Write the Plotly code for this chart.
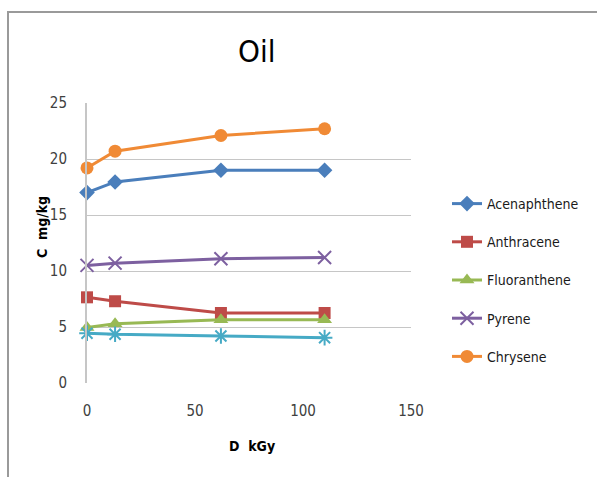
import plotly.graph_objects as go

# Absorbed dose (kGy) and measured concentrations (mg/kg)
dose = [0, 13, 62, 110]
acenaphthene = [17.0, 17.95, 19.0, 19.0]
anthracene = [7.65, 7.3, 6.25, 6.25]
fluoranthene = [4.95, 5.3, 5.65, 5.65]
pyrene = [10.5, 10.7, 11.1, 11.2]
chrysene = [19.2, 20.7, 22.1, 22.7]
benzo_pyrene = [4.45, 4.35, 4.2, 4.05]

W, H = 597, 477
L, R, T, B = 87, 186, 103, 94
pw, ph = W - L - R, H - T - B

def px_x(p):
    return (p - L) / pw

def px_y(p):
    return (H - B - p) / ph

FONT = "DejaVu Sans Condensed, Liberation Sans Narrow, sans-serif"

series = [
    ("Acenaphthene", acenaphthene, "#4A7EBB", "diamond", 12, True),
    ("Anthracene", anthracene, "#BE4B48", "square", 12, True),
    ("Fluoranthene", fluoranthene, "#98B954", "triangle-up", 13, True),
    ("Pyrene", pyrene, "#7D60A0", "x-thin", 13, True),
    ("Chrysene", chrysene, "#F08A35", "circle", 13, True),
    ("Benzo(a)pyrene", benzo_pyrene, "#46AAC5", "asterisk", 13, False),
]

fig = go.Figure()
for i, (name, vals, color, sym, size, show) in enumerate(series):
    thin = sym in ("x-thin", "asterisk")
    fig.add_trace(go.Scatter(
        x=dose, y=vals, name=name, mode="lines+markers",
        line=dict(color=color, width=3),
        marker=dict(symbol=sym, size=size, color=color,
                    line=dict(color=color, width=2 if thin else 0)),
        cliponaxis=False, showlegend=show, legendgroup=f"g{i}",
    ))

def label(text, x, y, size, angle=0):
    return dict(text=text, x=px_x(x), y=px_y(y), xref="paper", yref="paper",
                xanchor="center", yanchor="middle", showarrow=False,
                textangle=angle, font=dict(family=FONT, size=size, color="black"))

fig.update_layout(
    width=W, height=H,
    margin=dict(l=L, r=R, t=T, b=B),
    paper_bgcolor="white", plot_bgcolor="white",
    font=dict(family=FONT, color="#404040", size=15),
    showlegend=True,
    legend=dict(x=px_x(447), y=px_y(188), xanchor="left", yanchor="top",
                font=dict(family=FONT, size=14, color="#1a1a1a"),
                traceorder="grouped", tracegroupgap=17,
                bgcolor="rgba(0,0,0,0)"),
    xaxis=dict(range=[0, 150], tickvals=[0, 50, 100, 150],
               showgrid=False, zeroline=False, showline=False,
               ticks="", ticklabelstandoff=17,
               tickfont=dict(family=FONT, size=15, color="#404040")),
    yaxis=dict(range=[0, 25], tickvals=[0, 5, 10, 15, 20, 25],
               showgrid=True, gridcolor="#c6c6c6", gridwidth=1.2,
               zeroline=False, showline=True, linecolor="#c6c6c6", linewidth=2,
               ticks="", ticklabelstandoff=15,
               tickfont=dict(family=FONT, size=15, color="#404040")),
    annotations=[
        label("Oil", 256, 51, 31),
        label("<b>C  mg/kg</b>", 42, 227, 14, angle=-90),
        label("<b>D  kGy</b>", 252, 446, 14),
    ],
    shapes=[
        dict(type="path", xref="paper", yref="paper",
             path=f"M {px_x(8)} {px_y(480)} L {px_x(8)} {px_y(12)} L {px_x(600)} {px_y(12)}",
             line=dict(color="#9a9a9a", width=2)),
    ],
)

fig.write_html("out.html")
